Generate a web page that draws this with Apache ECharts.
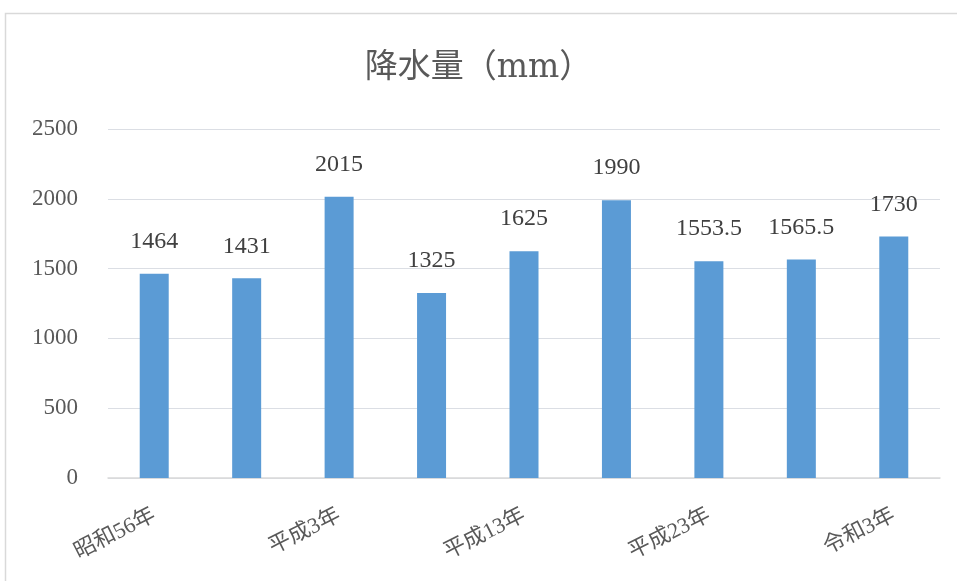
<!DOCTYPE html>
<html><head><meta charset="utf-8">
<script src="https://cdn.jsdelivr.net/npm/echarts@6/dist/echarts.min.js"></script>
<style>html,body{margin:0;padding:0;background:#fff}#c{width:957px;height:581px}</style>
</head><body><div id="c"></div>
<script>
const categories = ['昭和56年','昭和61年','平成3年','平成8年','平成13年','平成18年','平成23年','平成28年','令和3年'];
const rainfall = [1464, 1431, 2015, 1325, 1625, 1990, 1553.5, 1565.5, 1730];
const yTicks = [0, 500, 1000, 1500, 2000, 2500];
const titleText = '降水量（mm）';

const FONT = "'Liberation Serif', 'Noto Sans CJK JP', serif";
const TITLE_FONT = "'DejaVu Serif', 'Noto Sans CJK JP', serif";
const chart = echarts.init(document.getElementById('c'));
chart.setOption({
  animation: false,
  graphic: [{type:'rect', shape:{x:5.5,y:13.5,width:1000,height:700}, style:{fill:'none', stroke:'#d9d9d9', lineWidth:1.5}, silent:true}],
  title: {text: titleText, left: 'center', top: 47, textStyle:{fontFamily:TITLE_FONT, fontSize:33, fontWeight:'normal', color:'#595959'}},
  grid: {left:108, right:17, top:129, bottom:103},
  xAxis: {type:'category', data:categories,
    axisLine:{lineStyle:{color:'#d9d9d9', width:1.5}}, axisTick:{show:false},
    axisLabel:{interval:1, rotate:27, color:'#595959', fontFamily:FONT, fontSize:22, margin:36}},
  yAxis: {type:'value', min:yTicks[0], max:yTicks[yTicks.length-1], interval:500,
    axisLine:{show:false}, axisTick:{show:false},
    axisLabel:{color:'#595959', fontFamily:FONT, fontSize:23, margin:30, formatter: v => String(v)}},
  series: [{type:'bar', data:rainfall, barWidth:29, itemStyle:{color:'#5b9bd5'},
    label:{show:true, position:'top', distance:20, color:'#404040', fontFamily:FONT, fontSize:24}}]
});
</script></body></html>
